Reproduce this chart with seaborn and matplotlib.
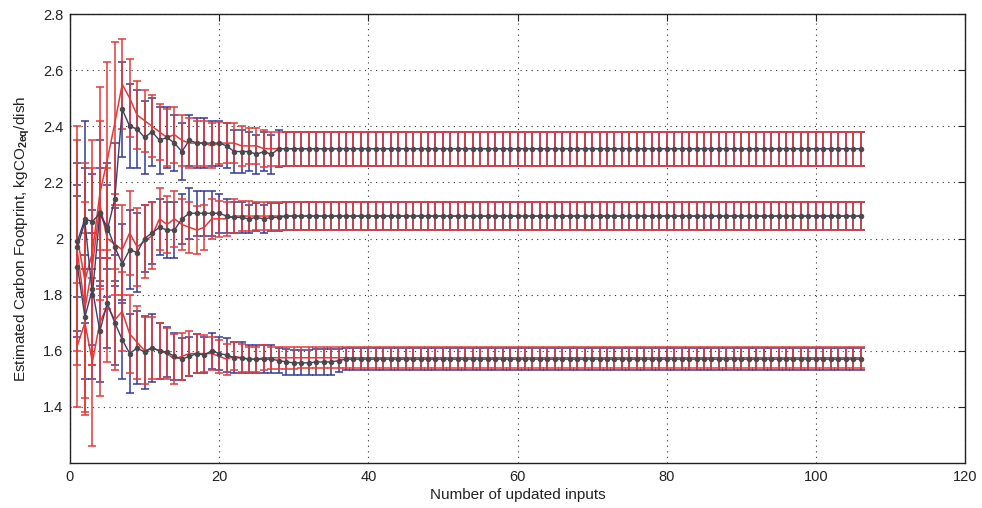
import numpy as np
import pandas as pd
import matplotlib
matplotlib.use("Agg")
import matplotlib.pyplot as plt
import seaborn as sns

# ---------------- data ----------------
inputs = np.arange(1, 107)

top_blue = [1.97, 2.06, 1.80, 2.09, 2.03, 2.14, 2.46, 2.40, 2.39, 2.36,
            2.38, 2.35, 2.36, 2.34, 2.31, 2.35, 2.34, 2.34, 2.34, 2.34,
            2.33, 2.31, 2.31, 2.31, 2.30, 2.31, 2.30, 2.32, 2.32, 2.32,
            2.32, 2.32, 2.32, 2.32, 2.32, 2.32, 2.32, 2.32, 2.32, 2.32,
            2.32, 2.32, 2.32, 2.32, 2.32, 2.32, 2.32, 2.32, 2.32, 2.32,
            2.32, 2.32, 2.32, 2.32, 2.32, 2.32, 2.32, 2.32, 2.32, 2.32,
            2.32, 2.32, 2.32, 2.32, 2.32, 2.32, 2.32, 2.32, 2.32, 2.32,
            2.32, 2.32, 2.32, 2.32, 2.32, 2.32, 2.32, 2.32, 2.32, 2.32,
            2.32, 2.32, 2.32, 2.32, 2.32, 2.32, 2.32, 2.32, 2.32, 2.32,
            2.32, 2.32, 2.32, 2.32, 2.32, 2.32, 2.32, 2.32, 2.32, 2.32,
            2.32, 2.32, 2.32, 2.32, 2.32, 2.32]
top_blue_err = [0.30, 0.36, 0.30, 0.26, 0.24, 0.20, 0.17, 0.15, 0.14, 0.13,
                0.12, 0.12, 0.11, 0.10, 0.10, 0.09, 0.09, 0.09, 0.08, 0.08,
                0.08, 0.075, 0.075, 0.07, 0.07, 0.07, 0.07, 0.065, 0.06, 0.06,
                0.06, 0.06, 0.06, 0.06, 0.06, 0.06, 0.06, 0.06, 0.06, 0.06,
                0.06, 0.06, 0.06, 0.06, 0.06, 0.06, 0.06, 0.06, 0.06, 0.06,
                0.06, 0.06, 0.06, 0.06, 0.06, 0.06, 0.06, 0.06, 0.06, 0.06,
                0.06, 0.06, 0.06, 0.06, 0.06, 0.06, 0.06, 0.06, 0.06, 0.06,
                0.06, 0.06, 0.06, 0.06, 0.06, 0.06, 0.06, 0.06, 0.06, 0.06,
                0.06, 0.06, 0.06, 0.06, 0.06, 0.06, 0.06, 0.06, 0.06, 0.06,
                0.06, 0.06, 0.06, 0.06, 0.06, 0.06, 0.06, 0.06, 0.06, 0.06,
                0.06, 0.06, 0.06, 0.06, 0.06, 0.06]
top_red = [2.00, 1.85, 1.95, 2.16, 2.28, 2.41, 2.55, 2.50, 2.44, 2.42,
           2.40, 2.38, 2.36, 2.37, 2.35, 2.34, 2.34, 2.34, 2.33, 2.34,
           2.34, 2.34, 2.33, 2.33, 2.33, 2.32, 2.32, 2.32, 2.32, 2.32,
           2.32, 2.32, 2.32, 2.32, 2.32, 2.32, 2.32, 2.32, 2.32, 2.32,
           2.32, 2.32, 2.32, 2.32, 2.32, 2.32, 2.32, 2.32, 2.32, 2.32,
           2.32, 2.32, 2.32, 2.32, 2.32, 2.32, 2.32, 2.32, 2.32, 2.32,
           2.32, 2.32, 2.32, 2.32, 2.32, 2.32, 2.32, 2.32, 2.32, 2.32,
           2.32, 2.32, 2.32, 2.32, 2.32, 2.32, 2.32, 2.32, 2.32, 2.32,
           2.32, 2.32, 2.32, 2.32, 2.32, 2.32, 2.32, 2.32, 2.32, 2.32,
           2.32, 2.32, 2.32, 2.32, 2.32, 2.32, 2.32, 2.32, 2.32, 2.32,
           2.32, 2.32, 2.32, 2.32, 2.32, 2.32]
top_red_err = [0.40, 0.42, 0.40, 0.38, 0.35, 0.29, 0.16, 0.14, 0.12, 0.11,
               0.11, 0.10, 0.10, 0.10, 0.09, 0.09, 0.08, 0.08, 0.08, 0.075,
               0.07, 0.07, 0.07, 0.065, 0.065, 0.065, 0.06, 0.06, 0.06, 0.06,
               0.06, 0.06, 0.06, 0.06, 0.06, 0.06, 0.06, 0.06, 0.06, 0.06,
               0.06, 0.06, 0.06, 0.06, 0.06, 0.06, 0.06, 0.06, 0.06, 0.06,
               0.06, 0.06, 0.06, 0.06, 0.06, 0.06, 0.06, 0.06, 0.06, 0.06,
               0.06, 0.06, 0.06, 0.06, 0.06, 0.06, 0.06, 0.06, 0.06, 0.06,
               0.06, 0.06, 0.06, 0.06, 0.06, 0.06, 0.06, 0.06, 0.06, 0.06,
               0.06, 0.06, 0.06, 0.06, 0.06, 0.06, 0.06, 0.06, 0.06, 0.06,
               0.06, 0.06, 0.06, 0.06, 0.06, 0.06, 0.06, 0.06, 0.06, 0.06,
               0.06, 0.06, 0.06, 0.06, 0.06, 0.06]

mid_blue = [1.99, 2.07, 2.06, 2.09, 2.04, 1.97, 1.91, 1.96, 1.95, 2.00,
            2.02, 2.04, 2.03, 2.03, 2.07, 2.09, 2.09, 2.09, 2.09, 2.09,
            2.08, 2.075, 2.075, 2.07, 2.075, 2.07, 2.075, 2.075, 2.08, 2.08,
            2.08, 2.08, 2.08, 2.08, 2.08, 2.08, 2.08, 2.08, 2.08, 2.08,
            2.08, 2.08, 2.08, 2.08, 2.08, 2.08, 2.08, 2.08, 2.08, 2.08,
            2.08, 2.08, 2.08, 2.08, 2.08, 2.08, 2.08, 2.08, 2.08, 2.08,
            2.08, 2.08, 2.08, 2.08, 2.08, 2.08, 2.08, 2.08, 2.08, 2.08,
            2.08, 2.08, 2.08, 2.08, 2.08, 2.08, 2.08, 2.08, 2.08, 2.08,
            2.08, 2.08, 2.08, 2.08, 2.08, 2.08, 2.08, 2.08, 2.08, 2.08,
            2.08, 2.08, 2.08, 2.08, 2.08, 2.08, 2.08, 2.08, 2.08, 2.08,
            2.08, 2.08, 2.08, 2.08, 2.08, 2.08]
mid_blue_err = [0.20, 0.18, 0.17, 0.16, 0.15, 0.14, 0.14, 0.14, 0.14, 0.12,
                0.11, 0.10, 0.10, 0.10, 0.09, 0.09, 0.08, 0.08, 0.08, 0.07,
                0.06, 0.055, 0.055, 0.05, 0.05, 0.05, 0.05, 0.05, 0.05, 0.05,
                0.05, 0.05, 0.05, 0.05, 0.05, 0.05, 0.05, 0.05, 0.05, 0.05,
                0.05, 0.05, 0.05, 0.05, 0.05, 0.05, 0.05, 0.05, 0.05, 0.05,
                0.05, 0.05, 0.05, 0.05, 0.05, 0.05, 0.05, 0.05, 0.05, 0.05,
                0.05, 0.05, 0.05, 0.05, 0.05, 0.05, 0.05, 0.05, 0.05, 0.05,
                0.05, 0.05, 0.05, 0.05, 0.05, 0.05, 0.05, 0.05, 0.05, 0.05,
                0.05, 0.05, 0.05, 0.05, 0.05, 0.05, 0.05, 0.05, 0.05, 0.05,
                0.05, 0.05, 0.05, 0.05, 0.05, 0.05, 0.05, 0.05, 0.05, 0.05,
                0.05, 0.05, 0.05, 0.05, 0.05, 0.05]
mid_red = [1.95, 1.75, 1.90, 2.12, 2.00, 1.98, 1.96, 2.02, 1.97, 1.99,
           2.01, 2.07, 2.05, 2.07, 2.05, 2.04, 2.03, 2.04, 2.07, 2.07,
           2.07, 2.08, 2.08, 2.08, 2.08, 2.08, 2.08, 2.08, 2.08, 2.08,
           2.08, 2.08, 2.08, 2.08, 2.08, 2.08, 2.08, 2.08, 2.08, 2.08,
           2.08, 2.08, 2.08, 2.08, 2.08, 2.08, 2.08, 2.08, 2.08, 2.08,
           2.08, 2.08, 2.08, 2.08, 2.08, 2.08, 2.08, 2.08, 2.08, 2.08,
           2.08, 2.08, 2.08, 2.08, 2.08, 2.08, 2.08, 2.08, 2.08, 2.08,
           2.08, 2.08, 2.08, 2.08, 2.08, 2.08, 2.08, 2.08, 2.08, 2.08,
           2.08, 2.08, 2.08, 2.08, 2.08, 2.08, 2.08, 2.08, 2.08, 2.08,
           2.08, 2.08, 2.08, 2.08, 2.08, 2.08, 2.08, 2.08, 2.08, 2.08,
           2.08, 2.08, 2.08, 2.08, 2.08, 2.08]
mid_red_err = [0.40, 0.38, 0.35, 0.30, 0.25, 0.18, 0.16, 0.15, 0.14, 0.13,
               0.12, 0.11, 0.10, 0.10, 0.09, 0.09, 0.085, 0.08, 0.07, 0.065,
               0.06, 0.06, 0.055, 0.055, 0.05, 0.05, 0.05, 0.05, 0.05, 0.05,
               0.05, 0.05, 0.05, 0.05, 0.05, 0.05, 0.05, 0.05, 0.05, 0.05,
               0.05, 0.05, 0.05, 0.05, 0.05, 0.05, 0.05, 0.05, 0.05, 0.05,
               0.05, 0.05, 0.05, 0.05, 0.05, 0.05, 0.05, 0.05, 0.05, 0.05,
               0.05, 0.05, 0.05, 0.05, 0.05, 0.05, 0.05, 0.05, 0.05, 0.05,
               0.05, 0.05, 0.05, 0.05, 0.05, 0.05, 0.05, 0.05, 0.05, 0.05,
               0.05, 0.05, 0.05, 0.05, 0.05, 0.05, 0.05, 0.05, 0.05, 0.05,
               0.05, 0.05, 0.05, 0.05, 0.05, 0.05, 0.05, 0.05, 0.05, 0.05,
               0.05, 0.05, 0.05, 0.05, 0.05, 0.05]

bot_blue = [1.90, 1.72, 1.82, 1.67, 1.77, 1.70, 1.64, 1.59, 1.61, 1.595,
            1.61, 1.60, 1.595, 1.58, 1.57, 1.58, 1.59, 1.585, 1.60, 1.59,
            1.585, 1.575, 1.575, 1.57, 1.57, 1.57, 1.57, 1.565, 1.56, 1.557,
            1.557, 1.557, 1.56, 1.56, 1.56, 1.565, 1.57, 1.57, 1.57, 1.57,
            1.57, 1.57, 1.57, 1.57, 1.57, 1.57, 1.57, 1.57, 1.57, 1.57,
            1.57, 1.57, 1.57, 1.57, 1.57, 1.57, 1.57, 1.57, 1.57, 1.57,
            1.57, 1.57, 1.57, 1.57, 1.57, 1.57, 1.57, 1.57, 1.57, 1.57,
            1.57, 1.57, 1.57, 1.57, 1.57, 1.57, 1.57, 1.57, 1.57, 1.57,
            1.57, 1.57, 1.57, 1.57, 1.57, 1.57, 1.57, 1.57, 1.57, 1.57,
            1.57, 1.57, 1.57, 1.57, 1.57, 1.57, 1.57, 1.57, 1.57, 1.57,
            1.57, 1.57, 1.57, 1.57, 1.57, 1.57]
bot_blue_err = [0.25, 0.22, 0.20, 0.18, 0.16, 0.15, 0.14, 0.14, 0.13, 0.13,
                0.12, 0.10, 0.09, 0.085, 0.075, 0.07, 0.07, 0.065, 0.065, 0.06,
                0.06, 0.055, 0.055, 0.05, 0.05, 0.05, 0.05, 0.045, 0.045, 0.045,
                0.045, 0.045, 0.045, 0.045, 0.045, 0.04, 0.04, 0.04, 0.04, 0.04,
                0.04, 0.04, 0.04, 0.04, 0.04, 0.04, 0.04, 0.04, 0.04, 0.04,
                0.04, 0.04, 0.04, 0.04, 0.04, 0.04, 0.04, 0.04, 0.04, 0.04,
                0.04, 0.04, 0.04, 0.04, 0.04, 0.04, 0.04, 0.04, 0.04, 0.04,
                0.04, 0.04, 0.04, 0.04, 0.04, 0.04, 0.04, 0.04, 0.04, 0.04,
                0.04, 0.04, 0.04, 0.04, 0.04, 0.04, 0.04, 0.04, 0.04, 0.04,
                0.04, 0.04, 0.04, 0.04, 0.04, 0.04, 0.04, 0.04, 0.04, 0.04,
                0.04, 0.04, 0.04, 0.04, 0.04, 0.04]
bot_red = [1.62, 1.70, 1.56, 1.70, 1.76, 1.71, 1.74, 1.66, 1.63, 1.60,
           1.61, 1.60, 1.59, 1.57, 1.58, 1.59, 1.59, 1.59, 1.59, 1.58,
           1.57, 1.58, 1.575, 1.57, 1.57, 1.575, 1.575, 1.575, 1.575, 1.575,
           1.575, 1.575, 1.575, 1.575, 1.575, 1.575, 1.575, 1.575, 1.575, 1.575,
           1.575, 1.575, 1.575, 1.575, 1.575, 1.575, 1.575, 1.575, 1.575, 1.575,
           1.575, 1.575, 1.575, 1.575, 1.575, 1.575, 1.575, 1.575, 1.575, 1.575,
           1.575, 1.575, 1.575, 1.575, 1.575, 1.575, 1.575, 1.575, 1.575, 1.575,
           1.575, 1.575, 1.575, 1.575, 1.575, 1.575, 1.575, 1.575, 1.575, 1.575,
           1.575, 1.575, 1.575, 1.575, 1.575, 1.575, 1.575, 1.575, 1.575, 1.575,
           1.575, 1.575, 1.575, 1.575, 1.575, 1.575, 1.575, 1.575, 1.575, 1.575,
           1.575, 1.575, 1.575, 1.575, 1.575, 1.575]
bot_red_err = [0.22, 0.32, 0.30, 0.26, 0.20, 0.18, 0.14, 0.14, 0.13, 0.12,
               0.11, 0.10, 0.09, 0.09, 0.085, 0.08, 0.07, 0.065, 0.06, 0.06,
               0.055, 0.05, 0.05, 0.045, 0.045, 0.045, 0.04, 0.04, 0.04, 0.04,
               0.038, 0.038, 0.038, 0.038, 0.038, 0.038, 0.038, 0.038, 0.038, 0.038,
               0.038, 0.038, 0.038, 0.038, 0.038, 0.038, 0.038, 0.038, 0.038, 0.038,
               0.038, 0.038, 0.038, 0.038, 0.038, 0.038, 0.038, 0.038, 0.038, 0.038,
               0.038, 0.038, 0.038, 0.038, 0.038, 0.038, 0.038, 0.038, 0.038, 0.038,
               0.038, 0.038, 0.038, 0.038, 0.038, 0.038, 0.038, 0.038, 0.038, 0.038,
               0.038, 0.038, 0.038, 0.038, 0.038, 0.038, 0.038, 0.038, 0.038, 0.038,
               0.038, 0.038, 0.038, 0.038, 0.038, 0.038, 0.038, 0.038, 0.038, 0.038,
               0.038, 0.038, 0.038, 0.038, 0.038, 0.038]

x_ticks = [0, 20, 40, 60, 80, 100, 120]
y_ticks = [1.4, 1.6, 1.8, 2.0, 2.2, 2.4, 2.6, 2.8]
y_tick_labels = ["1.4", "1.6", "1.8", "2", "2.2", "2.4", "2.6", "2.8"]

# ---------------- style ----------------
sns.set_theme(style="white")
plt.rcParams["font.family"] = ["Liberation Sans", "DejaVu Sans"]
plt.rcParams["mathtext.fontset"] = "custom"
plt.rcParams["mathtext.rm"] = "Liberation Sans"
plt.rcParams["mathtext.bf"] = "Liberation Sans:bold"

BLUE_BAR = "#343a9e"
BLUE_LINE = "#3a4070"
MARK = "#4a4a4a"
RED = "#e63a36"

fig = plt.figure(figsize=(9.82, 5.08), dpi=100)
ax = fig.add_axes([70 / 982, 1 - 463 / 508, (965 - 70) / 982, (463 - 14) / 508])

groups = [
    (top_blue, top_blue_err, top_red, top_red_err),
    (mid_blue, mid_blue_err, mid_red, mid_red_err),
    (bot_blue, bot_blue_err, bot_red, bot_red_err),
]

# blue error bars first
for b, be, r, re_ in groups:
    ax.errorbar(inputs, b, yerr=be, fmt="none", ecolor=BLUE_BAR,
                elinewidth=1.1, capsize=2.6, capthick=1.1, zorder=2)
# red error bars on top
for b, be, r, re_ in groups:
    ax.errorbar(inputs, r, yerr=re_, fmt="none", ecolor=RED,
                elinewidth=1.1, capsize=2.6, capthick=1.1, zorder=3)

# lines through seaborn
for i, (b, be, r, re_) in enumerate(groups):
    dfr = pd.DataFrame({"x": inputs, "y": r})
    sns.lineplot(data=dfr, x="x", y="y", ax=ax, color=RED, linewidth=1.1,
                 zorder=4, estimator=None)
    dfb = pd.DataFrame({"x": inputs, "y": b})
    sns.lineplot(data=dfb, x="x", y="y", ax=ax, color=BLUE_LINE, linewidth=1.0,
                 marker="o", markersize=3.2, markerfacecolor=MARK,
                 markeredgecolor=MARK, zorder=5, estimator=None)

ax.set_xlim(0, 120)
ax.set_ylim(1.2, 2.8)
ax.set_xticks(x_ticks)
ax.set_xticklabels([str(t) for t in x_ticks])
ax.set_yticks(y_ticks)
ax.set_yticklabels(y_tick_labels)

ax.grid(True, color="#333333", linestyle=(0, (1, 4)), linewidth=0.8)
ax.set_axisbelow(True)
for s in ax.spines.values():
    s.set_color("#222222")
    s.set_linewidth(1.0)
    s.set_visible(True)
ax.tick_params(direction="in", length=5, width=0.8, top=True, right=True,
               labelsize=10.5, colors="#222222", pad=5)

ax.set_xlabel("Number of updated inputs", fontsize=11, color="#222222", labelpad=3)
ax.set_ylabel(r"Estimated Carbon Footprint, kgCO$_{\mathbf{2eq}}$/dish",
              fontsize=11, color="#222222", labelpad=8)

fig.savefig("out.png", dpi=100)
